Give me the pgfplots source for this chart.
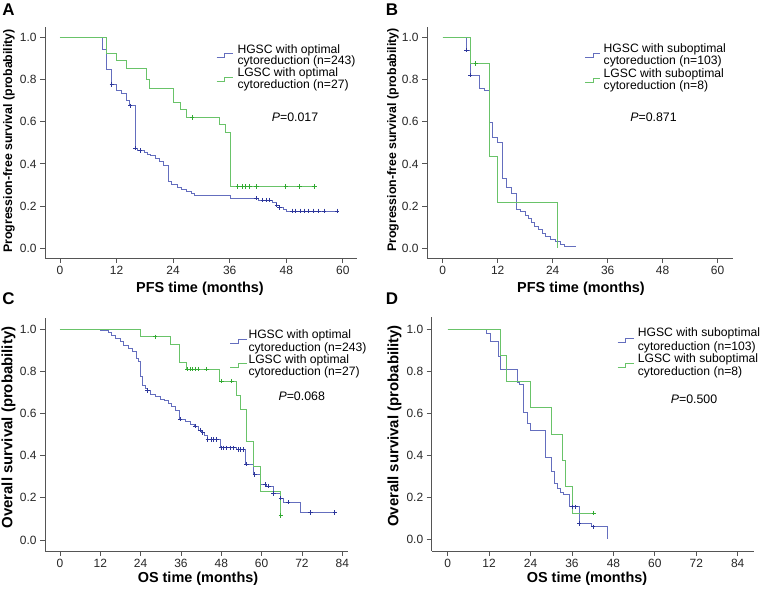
\documentclass[border=0pt]{standalone}
\usepackage{fontspec}
\setmainfont{Liberation Sans}
\usepackage{pgfplots}
\pgfplotsset{compat=1.18}
\definecolor{hg}{RGB}{100,110,190}
\definecolor{hgm}{RGB}{45,55,155}
\definecolor{lg}{RGB}{105,195,105}
\definecolor{lgm}{RGB}{50,170,50}
\definecolor{axg}{RGB}{85,85,85}
\pgfplotsset{
 km/.style={scale only axis, anchor=south west,
  axis x line*=bottom, axis y line*=left,
  axis line style={draw=axg, line width=0.8bp, -},
  tick align=outside, major tick length=5bp,
  tick style={draw=axg, line width=0.8bp},
  ytick={0,0.2,0.4,0.6,0.8,1},
  yticklabel style={/pgf/number format/fixed, /pgf/number format/fixed zerofill, /pgf/number format/precision=1, font=\fontsize{12}{14}\selectfont, text=black!85},
  xticklabel style={font=\fontsize{12}{14}\selectfont, text=black!85},
  /pgf/number format/assume math mode=true,
  clip=false},
 hgl/.style={const plot, color=hg, line width=0.8bp, no marks},
 lgl/.style={const plot, color=lg, line width=0.8bp, no marks},
 hgc/.style={only marks, color=hgm, mark=+, mark size=2.2bp, mark options={solid, line width=0.8bp}},
 lgc/.style={only marks, color=lgm, mark=+, mark size=2.2bp, mark options={solid, line width=0.8bp}},
}
\newcommand{\lgd}[3]{\node[anchor=west, inner sep=0pt, font=\fontsize{12.2}{14}\selectfont] at (#1,#2) {#3};}
\newcommand{\glyph}[4]{\draw[#4, line width=0.9bp] (#1,#3-2) -- (#1+8,#3-2) -- (#1+8,#3+2) -- (#2,#3+2);}
\begin{document}
\begin{tikzpicture}[x=1bp,y=1bp]
\useasboundingbox (0,0) rectangle (762,590);
% ---------------- A ----------------
\begin{axis}[km, at={(45bp,332bp)}, width=312bp, height=231bp,
  xmin=-3.18, xmax=63.0, ymin=-0.046, ymax=1.049, xtick={0,12,24,36,48,60}]
\addplot[hgl] coordinates {(0,1) (9.0,0.943) (9.9,0.85) (10.8,0.777) (11.9,0.75) (13.1,0.735) (14.0,0.70) (14.7,0.675) (15.9,0.474) (16.5,0.463) (18.0,0.455) (18.5,0.445) (19.2,0.44) (20.2,0.425) (21.1,0.41) (21.9,0.395) (22.9,0.316) (23.7,0.305) (24.8,0.29) (25.8,0.28) (26.9,0.27) (27.8,0.26) (28.6,0.25) (36.1,0.237) (42.1,0.229) (45.1,0.216) (45.8,0.205) (46.5,0.194) (47.3,0.185) (48.0,0.177) (58.8,0.177)};
\addplot[lgl] coordinates {(0,1) (9.9,0.926) (11.9,0.889) (14.0,0.852) (18.3,0.80) (19.0,0.758) (24.0,0.69) (25.5,0.656) (26.8,0.62) (33.9,0.585) (35.0,0.548) (36.1,0.292) (54.0,0.292)};
\addplot[hgc] coordinates {(11.0,0.777) (14.9,0.675) (15.9,0.474) (17.0,0.463) (41.7,0.237) (43.0,0.229) (43.8,0.229) (44.5,0.229) (46.0,0.205) (46.6,0.194) (49.2,0.177) (50.0,0.177) (50.9,0.177) (51.8,0.177) (52.7,0.177) (53.8,0.177) (54.8,0.177) (56.0,0.177) (58.8,0.177)};
\addplot[lgc] coordinates {(28.0,0.62) (37.7,0.292) (38.6,0.292) (39.4,0.292) (40.2,0.292) (41.7,0.292) (47.9,0.292) (50.8,0.292) (54.0,0.292)};
\end{axis}
% ---------------- B ----------------
\begin{axis}[km, at={(427bp,332bp)}, width=305.7bp, height=231bp,
  xmin=-3.43, xmax=63.3, ymin=-0.046, ymax=1.049, xtick={0,12,24,36,48,60}]
\addplot[hgl] coordinates {(0,1) (5.2,0.94) (6.0,0.82) (8.0,0.76) (9.0,0.747) (10.1,0.597) (10.9,0.526) (11.9,0.50) (13.0,0.332) (14.0,0.29) (14.9,0.26) (16.0,0.185) (16.9,0.174) (18.0,0.158) (18.7,0.142) (19.4,0.125) (20.1,0.103) (20.9,0.09) (21.8,0.071) (22.5,0.055) (23.4,0.043) (24.7,0.032) (25.6,0.02) (26.5,0.011) (29.0,0.011)};
\addplot[lgl] coordinates {(0,1) (6.1,0.875) (10.1,0.4375) (12.0,0.219) (25.0,0)};
\addplot[hgc] coordinates {(5.2,0.94) (6.0,0.82)};
\addplot[lgc] coordinates {(7.2,0.875)};
\end{axis}
% ---------------- C ----------------
\begin{axis}[km, at={(45bp,39bp)}, width=303.3bp, height=233.3bp,
  xmin=-4.46, xmax=85.8, ymin=-0.052, ymax=1.054, xtick={0,12,24,36,48,60,72,84}]
\addplot[hgl] coordinates {(0,1) (11.9,0.995) (14.4,0.983) (15.4,0.972) (16.4,0.956) (17.9,0.94) (18.8,0.924) (20.3,0.908) (21.6,0.893) (22.8,0.861) (23.4,0.845) (23.8,0.774) (24.6,0.735) (25.3,0.719) (26.0,0.708) (26.8,0.692) (28.3,0.679) (29.8,0.667) (31.2,0.66) (32.2,0.65) (33.2,0.632) (34.2,0.616) (35.5,0.573) (37.2,0.56) (38.7,0.55) (39.9,0.54) (41.2,0.521) (42.2,0.51) (43.1,0.497) (43.8,0.477) (47.6,0.437) (52.5,0.43) (55.3,0.36) (57.5,0.311) (59.5,0.264) (61.5,0.256) (63.5,0.221) (65.7,0.198) (66.4,0.179) (71.4,0.131) (81.8,0.131)};
\addplot[lgl] coordinates {(0,1) (23.8,0.963) (32.8,0.926) (35.6,0.843) (37.6,0.811) (47.4,0.754) (52.6,0.687) (53.8,0.617) (55.5,0.466) (57.5,0.351) (59.7,0.232) (65.7,0.116)};
\addplot[hgc] coordinates {(26.0,0.708) (35.7,0.573) (40.2,0.54) (41.7,0.521) (42.5,0.51) (44.0,0.477) (45.0,0.477) (45.8,0.477) (46.6,0.477) (47.9,0.437) (48.6,0.437) (49.6,0.437) (50.6,0.437) (51.6,0.437) (53.1,0.43) (53.8,0.43) (54.5,0.43) (55.5,0.36) (58.0,0.311) (61.0,0.264) (62.0,0.256) (63.5,0.221) (65.7,0.198) (67.9,0.179) (74.6,0.131) (81.8,0.131)};
\addplot[lgc] coordinates {(28.3,0.963) (37.9,0.811) (38.7,0.811) (39.5,0.811) (40.3,0.811) (41.1,0.811) (43.6,0.811) (48.1,0.754) (51.1,0.754) (65.7,0.116)};
\end{axis}
% ---------------- D ----------------
\begin{axis}[km, at={(431.7bp,39bp)}, width=322.6bp, height=234.3bp,
  xmin=-4.63, xmax=88.8, ymin=-0.055, ymax=1.058, xtick={0,12,24,36,48,60,72,84}]
\addplot[hgl] coordinates {(0,1) (11.1,0.98) (12.4,0.94) (14.8,0.87) (15.4,0.806) (20.1,0.746) (20.8,0.734) (22.0,0.604) (23.0,0.55) (24.0,0.517) (28.3,0.39) (30.1,0.324) (31.0,0.268) (31.8,0.24) (32.6,0.225) (33.6,0.215) (35.2,0.155) (38.1,0.076) (41.5,0.06) (46.3,0)};
\addplot[lgl] coordinates {(0,1) (15.2,0.875) (16.9,0.75) (24.0,0.625) (30.1,0.50) (33.3,0.375) (34.2,0.25) (36.2,0.125) (42.3,0.125)};
\addplot[hgc] coordinates {(36.0,0.155) (37.0,0.155) (38.1,0.076) (42.1,0.06)};
\addplot[lgc] coordinates {(42.3,0.125)};
\end{axis}
% ---------------- labels ----------------
\node[font=\bfseries\fontsize{17}{19}\selectfont] at (8.5,580.8) {A};
\node[font=\bfseries\fontsize{17}{19}\selectfont] at (392,580.8) {B};
\node[font=\bfseries\fontsize{17}{19}\selectfont] at (8.5,291) {C};
\node[font=\bfseries\fontsize{17}{19}\selectfont] at (392,291) {D};
\node[font=\bfseries\fontsize{14.5}{16}\selectfont] at (200,301) {PFS time (months)};
\node[font=\bfseries\fontsize{14.5}{16}\selectfont] at (581,301) {PFS time (months)};
\node[font=\bfseries\fontsize{14.5}{16}\selectfont] at (198,11) {OS time (months)};
\node[font=\bfseries\fontsize{14.5}{16}\selectfont] at (587,11) {OS time (months)};
\node[rotate=90, font=\bfseries\fontsize{12.4}{14}\selectfont] at (9,449) {Progression-free survival (probability)};
\node[rotate=90, font=\bfseries\fontsize{12.4}{14}\selectfont] at (393,450) {Progression-free survival (probability)};
\node[rotate=90, font=\bfseries\fontsize{15}{17}\selectfont] at (8.5,162.5) {Overall survival (probability)};
\node[rotate=90, font=\bfseries\fontsize{15}{17}\selectfont] at (394.5,164) {Overall survival (probability)};
% legends
\glyph{216.7}{233}{534.5}{hg}
\glyph{216.7}{233}{511}{lg}
\lgd{237.3}{540}{HGSC with optimal}
\lgd{237.3}{529}{cytoreduction (n=243)}
\lgd{237.3}{517}{LGSC with optimal}
\lgd{237.3}{505}{cytoreduction (n=27)}
\glyph{585}{600}{534.5}{hg}
\glyph{585}{600}{510}{lg}
\lgd{603.5}{540.7}{HGSC with suboptimal}
\lgd{603.5}{528.3}{cytoreduction (n=103)}
\lgd{603.5}{516}{LGSC with suboptimal}
\lgd{603.5}{504}{cytoreduction (n=8)}
\glyph{230}{247}{249}{hg}
\glyph{230}{247}{225}{lg}
\lgd{248.3}{254.3}{HGSC with optimal}
\lgd{248.3}{241.7}{cytoreduction (n=243)}
\lgd{248.3}{230}{LGSC with optimal}
\lgd{248.3}{217.7}{cytoreduction (n=27)}
\glyph{617.7}{634}{250}{hg}
\glyph{617.7}{634}{225}{lg}
\lgd{637.7}{256.7}{HGSC with suboptimal}
\lgd{637.7}{243}{cytoreduction (n=103)}
\lgd{637.7}{230.3}{LGSC with suboptimal}
\lgd{637.7}{218}{cytoreduction (n=8)}
% p values
\node[font=\fontsize{12.4}{14}\selectfont] at (295,473) {\textit{P}=0.017};
\node[font=\fontsize{12.4}{14}\selectfont] at (653.5,473) {\textit{P}=0.871};
\node[font=\fontsize{12.4}{14}\selectfont] at (301.7,193.3) {\textit{P}=0.068};
\node[font=\fontsize{12.4}{14}\selectfont] at (694,191) {\textit{P}=0.500};
\end{tikzpicture}
\end{document}
